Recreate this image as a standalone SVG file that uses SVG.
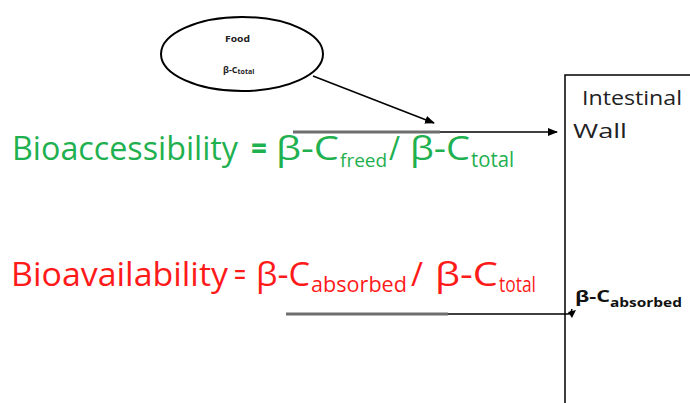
<svg xmlns="http://www.w3.org/2000/svg" width="690" height="403" viewBox="0 0 690 403">
<style>
.t{font-family:"Open Sans","Liberation Sans",sans-serif}
.g{fill:#1fb04f;font-size:32px}
.r{fill:#ff1a1a;font-size:32px}
.s{font-size:22px}
.k{fill:#222;font-size:20px}
.ln{stroke:#000;stroke-width:1.5;fill:none}
.gl{stroke:#6e6e6e;stroke-width:3;fill:none}
</style>
<defs>
<marker id="ah" markerWidth="10" markerHeight="8" refX="9" refY="4" orient="auto" markerUnits="userSpaceOnUse">
<path d="M0,0 L10,4 L0,8 Z" fill="#000"/>
</marker>
</defs>
<rect width="690" height="403" fill="#fff"/>
<g id="food">
<ellipse cx="242" cy="54" rx="81" ry="37" fill="#fff" stroke="#000" stroke-width="2"/>
<text class="t" x="225" y="42" font-size="9" font-weight="bold" fill="#222" textLength="25" lengthAdjust="spacingAndGlyphs">Food</text>
<text class="t" x="223" y="73" font-size="9" font-weight="bold" fill="#222">β-C<tspan font-size="7" dy="1">total</tspan></text>
</g>
<g id="wall">
<rect x="565" y="75" width="200" height="400" fill="none" stroke="#000" stroke-width="1.5"/>
<text class="t k" x="582" y="105" textLength="100" lengthAdjust="spacingAndGlyphs">Intestinal</text>
<text class="t k" x="573" y="138" textLength="54" lengthAdjust="spacingAndGlyphs">Wall</text>
<text class="t" x="575" y="302" font-size="16" font-weight="bold" fill="#111"><tspan textLength="35" lengthAdjust="spacingAndGlyphs">β-C</tspan><tspan x="610" y="307" font-size="12" textLength="72" lengthAdjust="spacingAndGlyphs">absorbed</tspan></text>
</g>
<g id="bioaccessibility">
<text class="t g" x="12" y="160" textLength="226" lengthAdjust="spacingAndGlyphs">Bioaccessibility</text>
<text class="t g" x="251" y="160" font-weight="bold" textLength="16" lengthAdjust="spacingAndGlyphs">=</text>
<text class="t g" x="276" y="160"><tspan textLength="63" lengthAdjust="spacingAndGlyphs">β-C</tspan><tspan x="340" y="167" font-size="19">freed</tspan><tspan x="389" y="160" textLength="11" lengthAdjust="spacingAndGlyphs">/</tspan><tspan x="410" y="160" textLength="60" lengthAdjust="spacingAndGlyphs">β-C</tspan><tspan class="s" x="471" y="167" textLength="43" lengthAdjust="spacingAndGlyphs">total</tspan></text>
</g>
<g id="bioavailability">
<text class="t r" x="11" y="286" textLength="217" lengthAdjust="spacingAndGlyphs">Bioavailability</text>
<text class="t r" x="234" y="286" textLength="12" lengthAdjust="spacingAndGlyphs">=</text>
<text class="t r" x="256" y="286"><tspan textLength="54" lengthAdjust="spacingAndGlyphs">β-C</tspan><tspan class="s" x="311" y="292" textLength="96" lengthAdjust="spacingAndGlyphs">absorbed</tspan><tspan x="411" y="286" textLength="12" lengthAdjust="spacingAndGlyphs">/</tspan><tspan x="435" y="286" textLength="63" lengthAdjust="spacingAndGlyphs">β-C</tspan><tspan class="s" x="499" y="292" textLength="37" lengthAdjust="spacingAndGlyphs">total</tspan></text>
</g>
<g id="connectors">
<line class="ln" x1="313" y1="76" x2="434" y2="123" marker-end="url(#ah)"/>
<line class="gl" x1="293" y1="132" x2="440" y2="132"/>
<line class="ln" x1="440" y1="132" x2="557" y2="132" marker-end="url(#ah)"/>
<line class="gl" x1="286" y1="314" x2="448" y2="314"/>
<path class="ln" d="M448,314 L568,314 Q571,314 572,309"/>
<path d="M568,312 L576,310 L572,318 Z" fill="#000"/>
</g>
</svg>
